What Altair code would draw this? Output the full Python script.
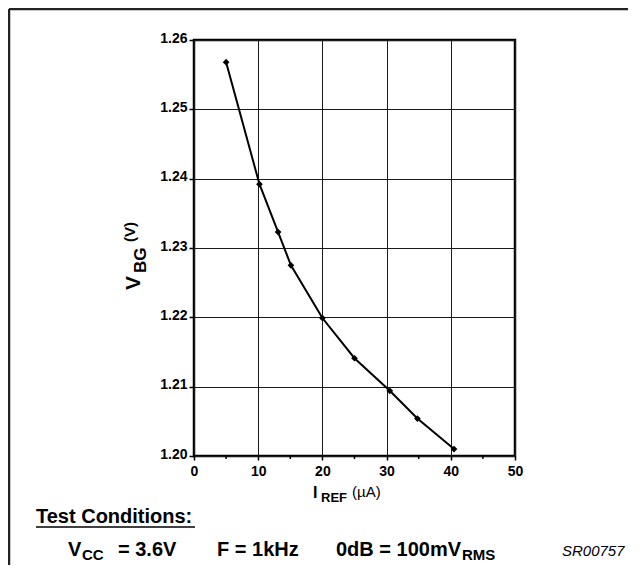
import altair as alt
import pandas as pd

# ---- data ----
i_ref = [5.0, 10.2, 13.1, 15.1, 20.0, 25.0, 30.5, 34.8, 40.5]
v_bg = [1.2568, 1.2392, 1.2323, 1.2275, 1.2199, 1.2141, 1.2094, 1.2054, 1.2010]
x_ticks = [0, 10, 20, 30, 40, 50]
x_minor = [5, 15, 25, 35, 45]
y_ticks = [1.20, 1.21, 1.22, 1.23, 1.24, 1.25, 1.26]

df = pd.DataFrame({"iref": i_ref, "vbg": v_bg})

W, H = 321, 416
TOTAL_W, TOTAL_H = 620, 557
PAD_L, PAD_T = 186, 32
FONT = "Liberation Sans"

xs = alt.X(
    "iref:Q",
    scale=alt.Scale(domain=[0, 50], nice=False, zero=False),
    axis=alt.Axis(
        values=x_ticks, title=None, format="d",
        labelFont=FONT, labelFontSize=14, labelFontWeight="bold", labelColor="black",
        tickColor="black", tickSize=4, tickWidth=1.5, labelPadding=4,
        domain=False, grid=True, gridColor="#1a1a1a", gridWidth=1, gridOpacity=1,
        labelFlush=False,
    ),
)
ys = alt.Y(
    "vbg:Q",
    scale=alt.Scale(domain=[1.20, 1.26], nice=False, zero=False),
    axis=alt.Axis(
        values=y_ticks, title=None, format=".2f",
        labelFont=FONT, labelFontSize=14, labelFontWeight="bold", labelColor="black",
        tickColor="black", tickSize=5, tickWidth=1.5, labelPadding=2, labelOffset=-2,
        domain=False, grid=True, gridColor="#1a1a1a", gridWidth=1, gridOpacity=1,
        labelFlush=False,
    ),
)

line = alt.Chart(df).mark_line(color="black", strokeWidth=2).encode(x=xs, y=ys)
pts = alt.Chart(df).mark_point(
    shape="diamond", filled=True, color="black", size=45, opacity=1
).encode(x="iref:Q", y="vbg:Q")

minor = alt.Chart(pd.DataFrame({"m": x_minor})).mark_rule(
    color="black", strokeWidth=1.5
).encode(x="m:Q", y=alt.value(H), y2=alt.value(H + 3))


def txt(s, x, y, size, weight="bold", align="left", angle=0, style="normal"):
    return alt.Chart(pd.DataFrame({"t": [s]})).mark_text(
        align=align, baseline="alphabetic", font=FONT, fontSize=size,
        fontWeight=weight, fontStyle=style, color="black", angle=angle,
    ).encode(text="t:N", x=alt.value(x), y=alt.value(y))


texts = [
    # y axis title (rotated)
    txt("V", -54, 250, 21, angle=270),
    txt("BG", -48, 233, 17, angle=270),
    txt("(V)", -59, 202, 15, angle=270),
    # x axis title
    txt("I", 119, 458, 16),
    txt("REF", 127, 462, 13),
    txt("(\u00b5A)", 158, 457, 15, weight="normal"),
    # footer
    txt("Test Conditions:", -158, 483, 20),
    txt("V", -126, 516, 20),
    txt("CC", -112, 520, 15),
    txt("= 3.6V", -76, 516, 20),
    txt("F = 1kHz", 23, 516, 20),
    txt("0dB = 100mV", 142, 516, 20),
    txt("RMS", 268, 520, 15),
    txt("SR00757", 368, 516, 15, weight="normal", style="italic"),
]

one = pd.DataFrame({"k": [0]})
underline = alt.Chart(one).mark_rule(color="black", strokeWidth=1.5).encode(
    x=alt.value(-158), x2=alt.value(1), y=alt.value(487)
)
frame_top = alt.Chart(one).mark_rule(color="#222222", strokeWidth=2.5).encode(
    x=alt.value(-PAD_L + 1), x2=alt.value(TOTAL_W - PAD_L), y=alt.value(-PAD_T + 1)
)
frame_left = alt.Chart(one).mark_rule(color="#222222", strokeWidth=2.5).encode(
    x=alt.value(-PAD_L + 1), y=alt.value(-PAD_T + 1), y2=alt.value(TOTAL_H - PAD_T)
)

chart = alt.layer(
    line, pts, minor, underline, frame_top, frame_left, *texts
).properties(
    width=W, height=H,
    autosize=alt.AutoSizeParams(type="none"),
    padding={"left": PAD_L, "top": PAD_T,
             "right": TOTAL_W - PAD_L - W, "bottom": TOTAL_H - PAD_T - H},
    background="white",
).configure_view(stroke="black", strokeWidth=2.5)

chart.save("out.html", embed_options={"renderer": "svg", "actions": False})
